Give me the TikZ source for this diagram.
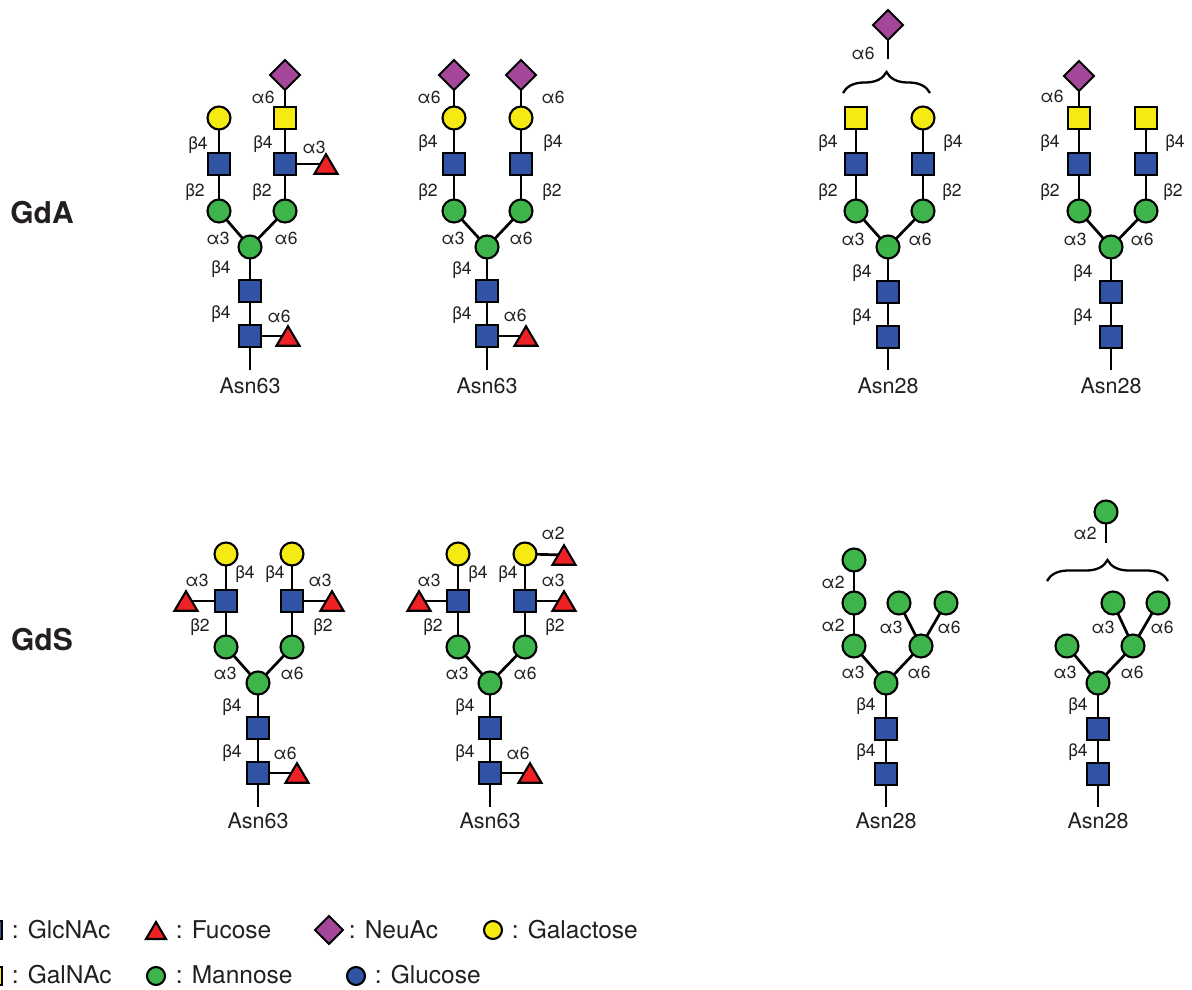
\documentclass[tikz,border=0pt]{standalone}
\usepackage{fontspec}
\setmainfont{TeX Gyre Heros}
\usetikzlibrary{shapes.geometric,backgrounds,decorations.pathreplacing}

\definecolor{cGlc}{HTML}{3153A4}
\definecolor{cMan}{HTML}{3DB54A}
\definecolor{cGal}{HTML}{F5EA12}
\definecolor{cFuc}{HTML}{EE2226}
\definecolor{cNeu}{HTML}{A4479A}
\definecolor{ink}{HTML}{231F20}

\tikzset{
  sym/.style={draw=black, line width=2.1pt, inner sep=0pt, outer sep=0pt},
  glcnac/.style={sym, rectangle, fill=cGlc, minimum size=22.5pt},
  galnac/.style={sym, rectangle, fill=cGal, minimum size=22.5pt},
  man/.style={sym, circle, fill=cMan, minimum size=23pt},
  gal/.style={sym, circle, fill=cGal, minimum size=23pt},
  glc/.style={sym, circle, fill=cGlc, minimum size=23pt},
  neuac/.style={sym, diamond, fill=cNeu, minimum width=30pt, minimum height=30pt},
  fucbox/.style={rectangle, inner sep=0pt, outer sep=0pt, minimum width=23pt, minimum height=19.5pt},
  fucfill/.style={draw=black, fill=cFuc, line width=2.1pt, line join=miter},
  link/.style={draw=black, line width=2.7pt},
  lk/.style={inner sep=0pt, text=ink, font=\fontsize{17.5}{20}\selectfont},
  asn/.style={inner sep=0pt, text=ink, anchor=base, font=\fontsize{21.5}{24}\selectfont},
  grp/.style={inner sep=0pt, text=ink, font=\bfseries\fontsize{30}{34}\selectfont},
  lgtext/.style={inner sep=0pt, text=ink, anchor=base west, font=\fontsize{24.5}{28}\selectfont},
  legsz/.style={minimum size=18pt},
  bracket/.style={draw=black, line width=2.3pt, decorate, decoration={brace, amplitude=21pt}},
}

% fucose: an invisible box carrying the name, with the triangle drawn in it
\newcommand\fucnode[3][]{%
  \node[fucbox,#1] (#2) at (#3) {};%
  \filldraw[fucfill] (#2.south west) -- (#2.south east) -- (#2.north) -- cycle;}
\newcommand\lk[3]{\node[lk] (#1) at (#2) {#3};}
\newcommand\lnk[2]{\draw[link] (#1.center) -- (#2.center);}

\begin{document}
\begin{tikzpicture}[x=1pt,y=-1pt]
\useasboundingbox (0,0) rectangle (1192,990);
\clip (0,0) rectangle (1192,990);

% group labels
\node[grp] (gda) at (42,212.5) {GdA};
\node[grp] (gds) at (42,640) {GdS};

% ---------- GdA, Asn63, first structure ----------
\begin{scope}[shift={(250,0)}]
  \node[glcnac] (a1) at (0,336) {};
  \node[glcnac] (a2) at (0,291) {};
  \node[man] (a3) at (0,247) {};
  \node[man] (a4) at (-31,211) {};
  \node[man] (a5) at (35,211) {};
  \node[glcnac] (a6) at (-31,164) {};
  \node[glcnac] (a7) at (35,164) {};
  \node[gal] (a8) at (-31,118) {};
  \node[galnac] (a9) at (35,118) {};
  \node[neuac] (a10) at (35,75) {};
  \fucnode{aF1}{38,336}
  \fucnode{aF2}{76,164}
  \coordinate (aS) at (0,370);
  \node[asn] (aAsn) at (0,393) {Asn63};
  \lk{aL1}{13,97}{α6}
  \lk{aL2}{-52,145}{β4}
  \lk{aL3}{13,144}{β4}
  \lk{aL4}{64,147}{α3}
  \lk{aL5}{-55,192}{β2}
  \lk{aL6}{12,192}{β2}
  \lk{aL7}{-32,238}{α3}
  \lk{aL8}{36,238}{α6}
  \lk{aL9}{-29,269}{β4}
  \lk{aL10}{-29,314}{β4}
  \lk{aL11}{29,316}{α6}
  \begin{scope}[on background layer]
    \lnk{a1}{a2}\lnk{a2}{a3}\lnk{a3}{a4}\lnk{a3}{a5}\lnk{a4}{a6}\lnk{a5}{a7}
    \lnk{a6}{a8}\lnk{a7}{a9}\lnk{a9}{a10}\lnk{a1}{aF1}\lnk{a7}{aF2}\lnk{a1}{aS}
  \end{scope}
\end{scope}

% ---------- GdA, Asn63, second structure ----------
\begin{scope}[shift={(487,0)}]
  \node[glcnac] (b1) at (0,336) {};
  \node[glcnac] (b2) at (0,291) {};
  \node[man] (b3) at (0,247) {};
  \node[man] (b4) at (-33,211) {};
  \node[man] (b5) at (34,211) {};
  \node[glcnac] (b6) at (-33,164) {};
  \node[glcnac] (b7) at (34,164) {};
  \node[gal] (b8) at (-33,118) {};
  \node[gal] (b9) at (34,118) {};
  \node[neuac] (b10) at (-33,75) {};
  \node[neuac] (b11) at (34,75) {};
  \fucnode{bF1}{39,336}
  \coordinate (bS) at (0,370);
  \node[asn] (bAsn) at (0,393) {Asn63};
  \lk{bL1}{-58,97}{α6}
  \lk{bL2}{66,97}{α6}
  \lk{bL3}{-59,143}{β4}
  \lk{bL4}{66,143}{β4}
  \lk{bL5}{-59,192}{β2}
  \lk{bL6}{65,192}{β2}
  \lk{bL7}{-34,238}{α3}
  \lk{bL8}{34,238}{α6}
  \lk{bL9}{-25,270}{β4}
  \lk{bL10}{-25,315}{β4}
  \lk{bL11}{28,315}{α6}
  \begin{scope}[on background layer]
    \lnk{b1}{b2}\lnk{b2}{b3}\lnk{b3}{b4}\lnk{b3}{b5}\lnk{b4}{b6}\lnk{b5}{b7}
    \lnk{b6}{b8}\lnk{b7}{b9}\lnk{b8}{b10}\lnk{b9}{b11}\lnk{b1}{bF1}\lnk{b1}{bS}
  \end{scope}
\end{scope}

% ---------- GdA, Asn28, first structure ----------
\begin{scope}[shift={(888,0)}]
  \node[glcnac] (c1) at (0,337) {};
  \node[glcnac] (c2) at (0,292) {};
  \node[man] (c3) at (0,247) {};
  \node[man] (c4) at (-32,211) {};
  \node[man] (c5) at (35,211) {};
  \node[glcnac] (c6) at (-32,164) {};
  \node[glcnac] (c7) at (35,164) {};
  \node[galnac] (c8) at (-32,118) {};
  \node[gal] (c9) at (35,118) {};
  \node[neuac] (c10) at (0,25) {};
  \coordinate (cE) at (0,59);
  \coordinate (cB1) at (-45,93);
  \coordinate (cB2) at (42,93);
  \draw[bracket] (cB1) -- (cB2);
  \coordinate (cS) at (0,370);
  \node[asn] (cAsn) at (0,393) {Asn28};
  \lk{cL1}{-25,53}{α6}
  \lk{cL2}{-60,143}{β4}
  \lk{cL3}{65,143}{β4}
  \lk{cL4}{-60,192}{β2}
  \lk{cL5}{64,192}{β2}
  \lk{cL6}{-35,239}{α3}
  \lk{cL7}{32,239}{α6}
  \lk{cL8}{-26,273}{β4}
  \lk{cL9}{-26,317}{β4}
  \begin{scope}[on background layer]
    \lnk{c1}{c2}\lnk{c2}{c3}\lnk{c3}{c4}\lnk{c3}{c5}\lnk{c4}{c6}\lnk{c5}{c7}
    \lnk{c6}{c8}\lnk{c7}{c9}\lnk{c10}{cE}\lnk{c1}{cS}
  \end{scope}
\end{scope}

% ---------- GdA, Asn28, second structure ----------
\begin{scope}[shift={(1111,0)}]
  \node[glcnac] (d1) at (0,337) {};
  \node[glcnac] (d2) at (0,292) {};
  \node[man] (d3) at (0,247) {};
  \node[man] (d4) at (-32,211) {};
  \node[man] (d5) at (35,211) {};
  \node[glcnac] (d6) at (-32,164) {};
  \node[glcnac] (d7) at (35,164) {};
  \node[galnac] (d8) at (-32,118) {};
  \node[galnac] (d9) at (35,118) {};
  \node[neuac] (d10) at (-32,76) {};
  \coordinate (dS) at (0,370);
  \node[asn] (dAsn) at (0,393) {Asn28};
  \lk{dL1}{-59,96}{α6}
  \lk{dL2}{-61,143}{β4}
  \lk{dL3}{64,143}{β4}
  \lk{dL4}{-61,192}{β2}
  \lk{dL5}{62,192}{β2}
  \lk{dL6}{-36,239}{α3}
  \lk{dL7}{31,239}{α6}
  \lk{dL8}{-28,273}{β4}
  \lk{dL9}{-28,317}{β4}
  \begin{scope}[on background layer]
    \lnk{d1}{d2}\lnk{d2}{d3}\lnk{d3}{d4}\lnk{d3}{d5}\lnk{d4}{d6}\lnk{d5}{d7}
    \lnk{d6}{d8}\lnk{d7}{d9}\lnk{d8}{d10}\lnk{d1}{dS}
  \end{scope}
\end{scope}

% ---------- GdS, Asn63, first structure ----------
\begin{scope}[shift={(258,0)}]
  \node[glcnac] (e1) at (0,773) {};
  \node[glcnac] (e2) at (0,728) {};
  \node[man] (e3) at (0,683) {};
  \node[man] (e4) at (-32,647) {};
  \node[man] (e5) at (34,647) {};
  \node[glcnac] (e6) at (-32,601) {};
  \node[glcnac] (e7) at (34,601) {};
  \node[gal] (e8) at (-32,554) {};
  \node[gal] (e9) at (34,554) {};
  \fucnode{eF1}{39,773}
  \fucnode{eF2}{-72,601}
  \fucnode{eF3}{74,601}
  \coordinate (eS) at (0,807);
  \node[asn] (eAsn) at (0,828) {Asn63};
  \lk{eL1}{-13,574}{β4}
  \lk{eL2}{17,574}{β4}
  \lk{eL3}{-61,580}{α3}
  \lk{eL4}{62,580}{α3}
  \lk{eL5}{-58,627}{β2}
  \lk{eL6}{65,627}{β2}
  \lk{eL7}{-33,673}{α3}
  \lk{eL8}{34,673}{α6}
  \lk{eL9}{-26,707}{β4}
  \lk{eL10}{-26,753}{β4}
  \lk{eL11}{27,753}{α6}
  \begin{scope}[on background layer]
    \lnk{e1}{e2}\lnk{e2}{e3}\lnk{e3}{e4}\lnk{e3}{e5}\lnk{e4}{e6}\lnk{e5}{e7}
    \lnk{e6}{e8}\lnk{e7}{e9}\lnk{e1}{eF1}\lnk{e6}{eF2}\lnk{e7}{eF3}\lnk{e1}{eS}
  \end{scope}
\end{scope}

% ---------- GdS, Asn63, second structure ----------
\begin{scope}[shift={(490,0)}]
  \node[glcnac] (f1) at (0,773) {};
  \node[glcnac] (f2) at (0,728) {};
  \node[man] (f3) at (0,683) {};
  \node[man] (f4) at (-32,647) {};
  \node[man] (f5) at (35,647) {};
  \node[glcnac] (f6) at (-32,601) {};
  \node[glcnac] (f7) at (35,601) {};
  \node[gal] (f8) at (-32,554) {};
  \node[gal] (f9) at (35,554) {};
  \fucnode{fF1}{40,773}
  \fucnode{fF2}{-71,601}
  \fucnode{fF3}{74,601}
  \fucnode{fF4}{74,555}
  \coordinate (fS) at (0,807);
  \node[asn] (fAsn) at (0,828) {Asn63};
  \lk{fL1}{63,533}{α2}
  \lk{fL2}{-12,574}{β4}
  \lk{fL3}{18,574}{β4}
  \lk{fL4}{-61,580}{α3}
  \lk{fL5}{63,580}{α3}
  \lk{fL6}{-57,627}{β2}
  \lk{fL7}{65,627}{β2}
  \lk{fL8}{-33,673}{α3}
  \lk{fL9}{35,673}{α6}
  \lk{fL10}{-25,707}{β4}
  \lk{fL11}{-25,753}{β4}
  \lk{fL12}{28,753}{α6}
  \begin{scope}[on background layer]
    \lnk{f1}{f2}\lnk{f2}{f3}\lnk{f3}{f4}\lnk{f3}{f5}\lnk{f4}{f6}\lnk{f5}{f7}
    \lnk{f6}{f8}\lnk{f7}{f9}\lnk{f1}{fF1}\lnk{f6}{fF2}\lnk{f7}{fF3}\lnk{f9}{fF4}\lnk{f1}{fS}
  \end{scope}
\end{scope}

% ---------- GdS, Asn28, first structure ----------
\begin{scope}[shift={(886,0)}]
  \node[glcnac] (g1) at (0,774) {};
  \node[glcnac] (g2) at (0,729) {};
  \node[man] (g3) at (0,683) {};
  \node[man] (g4) at (-32,646) {};
  \node[man] (g5) at (35,646) {};
  \node[man] (g6) at (-32,603) {};
  \node[man] (g7) at (-32,560) {};
  \node[man] (g8) at (13,603) {};
  \node[man] (g9) at (60,603) {};
  \coordinate (gS) at (0,807);
  \node[asn] (gAsn) at (0,828) {Asn28};
  \lk{gL1}{-53,582}{α2}
  \lk{gL2}{-53,625}{α2}
  \lk{gL3}{5,627}{α3}
  \lk{gL4}{63,627}{α6}
  \lk{gL5}{-33,672}{α3}
  \lk{gL6}{33,672}{α6}
  \lk{gL7}{-20,706}{β4}
  \lk{gL8}{-20,752}{β4}
  \begin{scope}[on background layer]
    \lnk{g1}{g2}\lnk{g2}{g3}\lnk{g3}{g4}\lnk{g3}{g5}\lnk{g4}{g6}\lnk{g6}{g7}
    \lnk{g5}{g8}\lnk{g5}{g9}\lnk{g1}{gS}
  \end{scope}
\end{scope}

% ---------- GdS, Asn28, second structure ----------
\begin{scope}[shift={(1098,0)}]
  \node[glcnac] (h1) at (0,774) {};
  \node[glcnac] (h2) at (0,729) {};
  \node[man] (h3) at (0,683) {};
  \node[man] (h4) at (-31,646) {};
  \node[man] (h5) at (35,646) {};
  \node[man] (h6) at (15,603) {};
  \node[man] (h7) at (60,603) {};
  \node[man] (h8) at (8,512) {};
  \coordinate (hE) at (8,543);
  \coordinate (hB1) at (-51,581);
  \coordinate (hB2) at (70,581);
  \draw[bracket] (hB1) -- (hB2);
  \coordinate (hS) at (0,807);
  \node[asn] (hAsn) at (0,828) {Asn28};
  \lk{hL1}{-13,533}{α2}
  \lk{hL2}{5,627}{α3}
  \lk{hL3}{64,627}{α6}
  \lk{hL4}{-33,672}{α3}
  \lk{hL5}{34,672}{α6}
  \lk{hL6}{-20,706}{β4}
  \lk{hL7}{-20,752}{β4}
  \begin{scope}[on background layer]
    \lnk{h1}{h2}\lnk{h2}{h3}\lnk{h3}{h4}\lnk{h3}{h5}\lnk{h5}{h6}\lnk{h5}{h7}
    \lnk{h8}{hE}\lnk{h1}{hS}
  \end{scope}
\end{scope}

% ---------- legend ----------
\node[glcnac, legsz] (lgGlc) at (-7,930) {};
\node[lgtext] (lgGlcT) at (11.7,938) {: GlcNAc};
\fucnode[minimum width=20pt, minimum height=17pt]{lgFuc}{156,930.5}
\node[lgtext] (lgFucT) at (175.7,938) {: Fucose};
\node[neuac, minimum width=28pt, minimum height=28pt] (lgNeu) at (329,930) {};
\node[lgtext] (lgNeuT) at (348.7,938) {: NeuAc};
\node[gal, legsz] (lgGal) at (493,930) {};
\node[lgtext] (lgGalT) at (511.7,938) {: Galactose};

\node[galnac, legsz] (lgGalNAc) at (-7,976) {};
\node[lgtext] (lgGalNAcT) at (11.7,983) {: GalNAc};
\node[man, legsz] (lgMan) at (156,976) {};
\node[lgtext] (lgManT) at (175.7,983) {: Mannose};
\node[glc, legsz] (lgGlcose) at (356,976) {};
\node[lgtext] (lgGlcoseT) at (374.7,983) {: Glucose};

\end{tikzpicture}
\end{document}
